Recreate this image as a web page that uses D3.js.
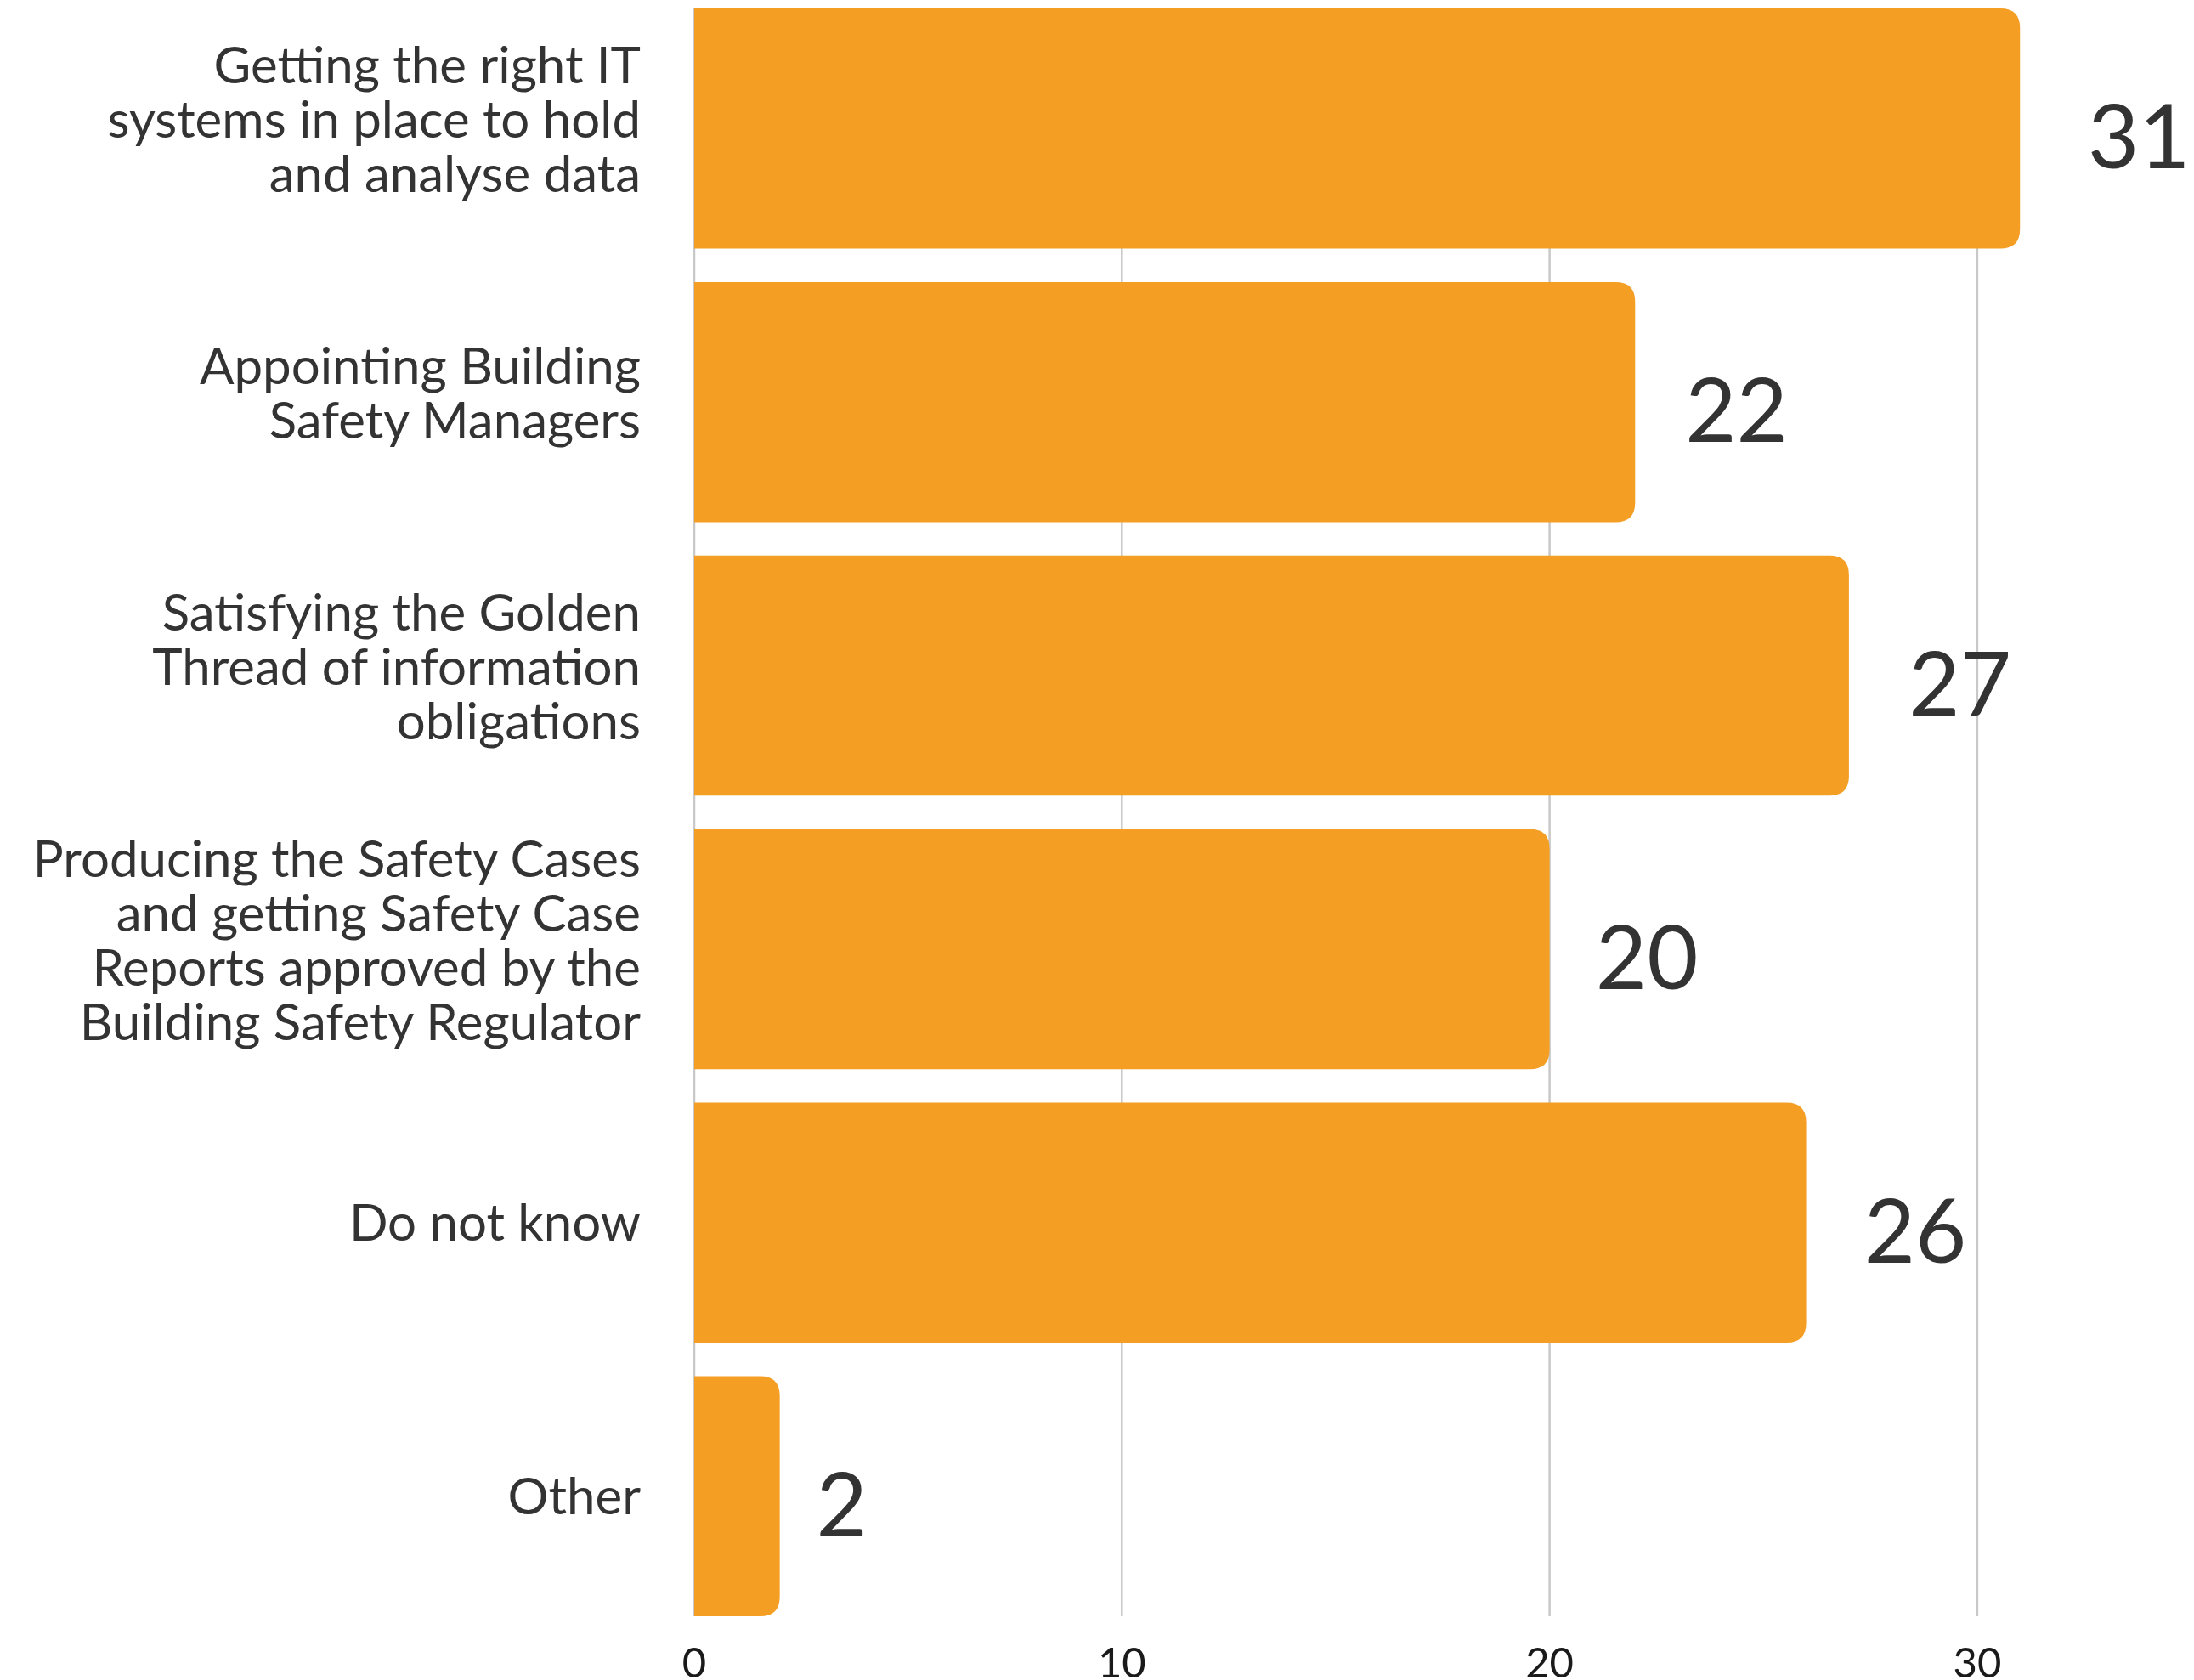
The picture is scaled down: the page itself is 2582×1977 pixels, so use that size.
<!DOCTYPE html>
<html>
<head>
<meta charset="utf-8">
<script src="https://cdn.jsdelivr.net/npm/d3@7/dist/d3.min.js"></script>
<style>
  html, body { margin: 0; padding: 0; background: #ffffff; }
  svg { display: block; }
  text { font-family: Lato, "Open Sans", sans-serif; }
</style>
</head>
<body>
<svg id="chart" width="2582" height="1977"></svg>
<script>
// ---- data ----
const categories = [
  ["Getting the right IT", "systems in place to hold", "and analyse data"],
  ["Appointing Building", "Safety Managers"],
  ["Satisfying the Golden", "Thread of information", "obligations"],
  ["Producing the Safety Cases", "and getting Safety Case", "Reports approved by the", "Building Safety Regulator"],
  ["Do not know"],
  ["Other"]
];
const values = [31, 22, 27, 20, 26, 2];
const tickValues = [0, 10, 20, 30];

// ---- layout ----
const svg = d3.select("#chart");
const barColor = "#F49E23";
const gridColor = "#c8c8c8";
const textColor = "#333333";

const x = d3.scaleLinear().domain([0, 32]).range([817, 817 + 32 * 50.33]);
const y = d3.scaleBand().domain(d3.range(values.length)).range([10, 1902]).paddingInner(0.122).paddingOuter(0);
// value label centre positions
const labelX = d3.scaleLinear().domain([2, 31]).range([x(2) + 73, x(31) + 140]);

// gridlines
svg.append("g").selectAll("line").data(tickValues).join("line")
  .attr("x1", d => x(d)).attr("x2", d => x(d))
  .attr("y1", 10).attr("y2", 1902)
  .attr("stroke", gridColor).attr("stroke-width", 2.5);

// tick labels
svg.append("g").selectAll("text").data(tickValues).join("text")
  .attr("x", d => x(d)).attr("y", 1974)
  .attr("text-anchor", "middle")
  .attr("font-size", 49)
  .attr("fill", "#1a1a1a")
  .text(d => d);

// bars with rounded right corners
const r = 23;
function barPath(v, i) {
  const x0 = x(0), x1 = x(v), y0 = y(i), y1 = y(i) + y.bandwidth();
  const rr = Math.min(r, (x1 - x0) / 2);
  return `M${x0},${y0} H${x1 - rr} Q${x1},${y0} ${x1},${y0 + rr} V${y1 - rr} Q${x1},${y1} ${x1 - rr},${y1} H${x0} Z`;
}
svg.append("g").selectAll("path").data(values).join("path")
  .attr("d", (d, i) => barPath(d, i))
  .attr("fill", barColor);

// value labels
svg.append("g").selectAll("text").data(values).join("text")
  .attr("x", d => labelX(d))
  .attr("y", (d, i) => y(i) + y.bandwidth() / 2 + 47)
  .attr("text-anchor", "middle")
  .attr("font-size", 104)
  .attr("fill", textColor)
  .text(d => d);

// category labels
const lh = 64;
const catG = svg.append("g");
categories.forEach((lines, i) => {
  const cy = y(i) + y.bandwidth() / 2;
  const n = lines.length;
  const off = n === 1 ? 21 : 11;
  const t = catG.append("text")
    .attr("text-anchor", "end")
    .attr("font-size", 60)
    .attr("fill", textColor);
  lines.forEach((ln, j) => {
    t.append("tspan")
      .attr("x", 754)
      .attr("y", cy + (j - (n - 1) / 2) * lh + off)
      .text(ln);
  });
});
</script>
</body>
</html>
